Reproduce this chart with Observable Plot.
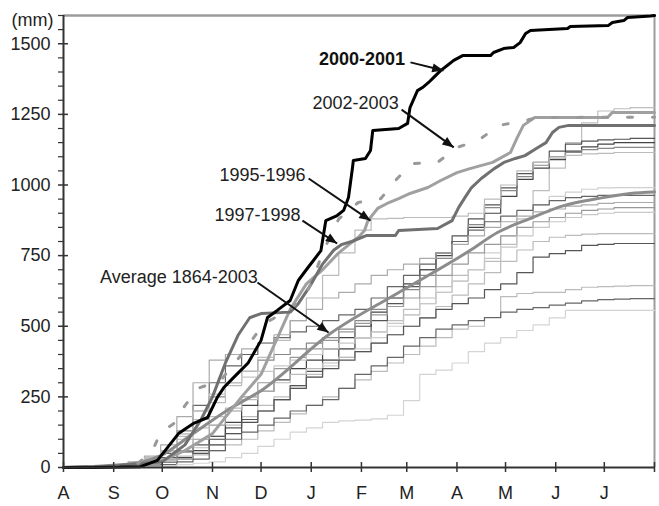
<!DOCTYPE html>
<html><head><meta charset="utf-8">
<script src="https://cdn.jsdelivr.net/npm/d3@7"></script>
<script src="https://cdn.jsdelivr.net/npm/@observablehq/plot@0.6"></script>
<style>body{margin:0;background:#fff}</style>
</head><body><div id="chart"></div>
<script>
// ---- axis data ----
const monthStarts = [0,31,61,92,122,153,184,212,243,273,304,334,365];
const monthLabels = ["A","S","O","N","D","J","F","M","A","M","J","J",""];
const yMajor = [0,250,500,750,1000,1250,1500];
const yMinor = d3.range(0,1601,50).filter(v => v % 250 !== 0);
const yUnit = "(mm)";

// ---- background seasons: cumulative mm on a 10-day grid (day of season from 1 Aug) ----
const days = [0,10,20,30,40,50,60,70,80,90,100,110,120,130,140,150,160,170,180,190,200,210,220,230,240,250,260,270,280,290,300,310,320,330,340,350,360,365];
const s1 = [0,0,2,5,10,15,25,40,70,110,150,180,220,250,290,330,380,420,460,480,520,560,600,640,680,700,730,790,880,980,1060,1150,1220,1262,1270,1274,1274,1274];
const s2 = [0,0,3,6,12,20,35,55,80,110,140,170,200,240,290,340,380,420,460,520,580,640,700,760,820,880,930,990,1040,1080,1120,1145,1155,1160,1162,1165,1165,1165];
const s3 = [0,0,0,2,5,10,20,35,60,100,160,220,270,310,350,380,420,460,500,550,600,650,700,750,800,850,900,960,1020,1060,1090,1120,1135,1145,1150,1150,1150,1150];
const s4 = [0,2,5,8,15,30,60,130,200,250,300,340,380,400,420,440,460,490,520,560,600,630,680,740,800,860,920,980,1030,1070,1100,1115,1125,1130,1133,1133,1133,1133];
const s5 = [0,0,3,8,15,30,60,110,170,230,290,340,390,450,520,600,680,760,840,880,882,885,885,885,890,900,950,1000,1050,1080,1095,1105,1110,1112,1115,1115,1115,1115];
const s6 = [0,0,0,3,6,10,20,30,50,80,120,160,200,240,280,320,360,390,420,460,500,540,580,620,660,700,760,820,880,930,960,975,985,990,991,991,991,991];
const s7 = [0,2,4,8,14,25,50,120,220,300,360,400,440,460,480,500,520,540,560,600,640,680,720,760,800,840,870,890,910,930,945,955,960,963,963,963,963,963];
const s8 = [0,3,6,10,20,40,80,180,300,380,400,420,440,470,520,560,600,620,650,680,700,720,740,760,790,820,850,870,890,905,915,925,930,935,938,938,938,938];
const s9 = [0,0,4,8,12,20,30,60,100,150,200,250,300,350,390,420,450,480,510,540,570,600,640,680,720,760,790,820,850,870,885,900,910,915,920,920,920,920];
const s10 = [0,0,2,5,10,25,60,120,200,260,300,320,340,360,380,400,420,440,460,480,510,540,580,620,660,700,740,780,820,850,870,885,895,900,903,903,903,903];
const s11 = [0,2,5,10,20,35,60,100,140,180,210,240,270,300,330,350,370,390,410,440,470,500,530,570,610,650,690,730,770,800,815,822,826,828,828,828,828,828];
const s12 = [0,0,2,4,8,12,18,30,50,80,120,160,200,240,280,320,350,380,410,440,470,500,530,560,580,600,630,650,690,745,757,768,786,790,793,793,793,793];
const s13 = [0,0,2,4,8,12,20,30,45,60,80,100,130,160,190,220,250,280,310,340,370,400,430,460,490,500,530,605,616,620,620,630,638,640,642,644,644,644];
const s14 = [0,0,2,4,6,8,10,20,30,60,100,125,150,175,200,220,240,280,330,360,390,430,460,490,505,520,531,550,560,566,575,582,590,594,596,598,598,598];
const s15 = [0,0,0,2,3,4,5,10,15,20,35,50,75,100,125,140,160,165,168,172,185,237,330,345,370,410,440,460,485,505,530,556,556,556,556,556,556,556];
const background = [s1,s2,s3,s4,s5,s6,s7,s8,s9,s10,s11,s12,s13,s14,s15];

// ---- highlighted seasons: [day, mm] ----
const y2000 = [[0,0],[18.5,0],[47.6,3],[58,25],[71,120],[80,155],[89,177],[95,248],[99,283],[105,318],[114,370],[122,450],[126,531],[132,556],[140,591],[145,662],[151,708],[154,730],[159,768],[162,874],[169,892],[173,910],[176,956],[178.5,1062],[179,1087],[186.5,1094],[189.6,1122],[191,1193],[207,1200],[212.5,1218],[214,1274],[218.6,1334],[221.7,1345],[225.5,1363],[228.5,1380],[232.9,1405],[237,1423],[241,1441],[246.5,1458],[263.7,1458],[265.6,1469],[271.8,1483],[278,1487],[282,1504],[285.4,1536],[288.4,1547],[311.3,1554],[313,1561],[336.6,1565],[339,1575],[346,1582],[348.4,1593],[362.6,1598],[365,1600]];
const y2002 = [[0,0],[30,3],[45,10],[55,60],[60,124],[68,155],[75,219],[83,280],[97,308],[110,400],[120,480],[125,513],[140,560],[150,616],[155,680],[160,761],[170,880],[182,938],[196,952],[205,1016],[215,1076],[231,1080],[243,1133],[256,1157],[269,1211],[285,1228],[293,1239],[365,1240]];
const y1995 = [[0,0],[40,5],[61,25],[75,60],[92,120],[110,250],[122,330],[140,560],[150,650],[160,700],[170,760],[183,820],[186,840],[188,874],[194,917],[201,938],[207,952],[214,970],[225,991],[233,1016],[243,1044],[251,1058],[265,1080],[276,1115],[280,1165],[284,1211],[291,1239],[336,1239],[339,1257],[365,1257]];
const y1997 = [[0,0],[31,5],[61,20],[75,80],[85,170],[92,250],[100,370],[108,470],[115,530],[122,545],[140,550],[145,580],[152,640],[160,720],[167,770],[172,790],[178,800],[187,821],[205,821],[207,839],[231,846],[240,874],[244,920],[248,956],[252,991],[258,1023],[266,1058],[272,1080],[279,1094],[285,1104],[292,1129],[298,1150],[302,1186],[306,1204],[312,1211],[365,1211]];
const average = [[0,0],[31,8],[49,20],[60,42],[80,120],[101,202],[122,272],[165,475],[206,616],[251,768],[268,832],[288,881],[309,927],[330,952],[350,970],[365,975]];

// ---- annotations (data units) ----
const labels = [
  {text:"2002-2003", day:207, mm:1288},
  {text:"1995-1996", day:149.5, mm:1034},
  {text:"1997-1998", day:146.4, mm:892},
  {text:"Average 1864-2003", day:120, mm:672}
];
const boldLabels = [{text:"2000-2001", day:211, mm:1444}];
const arrows = [
  {x1:214.3, y1:1434, x2:234.7, y2:1405},
  {x1:208.8, y1:1267, x2:241, y2:1133},
  {x1:151.4, y1:1023, x2:189.6, y2:874},
  {x1:147.6, y1:874, x2:169, y2:793},
  {x1:119.8, y1:655, x2:163.7, y2:478}
];

// ---- styles ----
const bgColors = ["#bdbdbd","#555","#444","#888","#bbb","#cfcfcf","#666","#aaa","#999","#c8c8c8","#bbb","#555","#bbb","#666","#d4d4d4"];

const font = "'Liberation Sans', Arial, sans-serif";
const marks = [
  Plot.ruleY([1600], {stroke:"#9c9c9c", strokeWidth:2.5}),
  Plot.ruleX([365], {stroke:"#9c9c9c", strokeWidth:2}),
  ...background.map((vals, i) => Plot.line(days, {x: d => d, y: (d, j) => vals[j], stroke: bgColors[i], strokeWidth: 1.2, curve: "step-after"})),
  Plot.line(average, {x: d => d[0], y: d => d[1], stroke:"#8c8c8c", strokeWidth:3, curve:"monotone-x"}),
  Plot.line(y1995, {x: d => d[0], y: d => d[1], stroke:"#a0a0a0", strokeWidth:3}),
  Plot.line(y1997, {x: d => d[0], y: d => d[1], stroke:"#707070", strokeWidth:3}),
  Plot.line(y2002, {x: d => d[0], y: d => d[1], stroke:"#999", strokeWidth:3, strokeDasharray:"5,20"}),
  Plot.line(y2000, {x: d => d[0], y: d => d[1], stroke:"#000", strokeWidth:3}),
  Plot.ruleX([0], {stroke:"#333", strokeWidth:2}),
  Plot.ruleY([0], {stroke:"#333", strokeWidth:2}),
  Plot.axisY(yMajor, {tickSize:10, dx:5, tickFormat: () => "", label:null, stroke:"#333", strokeWidth:1.5}),
  Plot.axisY(yMinor, {tickSize:5, tickFormat: () => "", label:null, stroke:"#333", strokeWidth:1.2}),
  Plot.axisY(yMajor, {tickSize:0, tickPadding:13, tickFormat: d3.format("d"), label:null, fill:"#222", fontSize:18}),
  Plot.axisX(monthStarts, {tickSize:10, dy:-5, tickFormat: () => "", label:null, stroke:"#333", strokeWidth:1.5}),
  Plot.axisX(monthStarts, {tickSize:0, tickPadding:19, tickFormat: d => monthLabels[monthStarts.indexOf(d)], label:null, fill:"#222", fontSize:18}),
  Plot.text([yUnit], {frameAnchor:"top-left", dx:-10, dy:5, textAnchor:"end", lineAnchor:"middle", fontSize:18, fill:"#222"}),
  Plot.link(arrows, {x1:"x1", y1:"y1", x2:"x2", y2:"y2", stroke:"#111", strokeWidth:2, markerEnd:"arrow"}),
  Plot.text(labels, {x:"day", y:"mm", text:"text", textAnchor:"end", lineAnchor:"middle", fontSize:18, fill:"#222"}),
  Plot.text(boldLabels, {x:"day", y:"mm", text:"text", textAnchor:"end", lineAnchor:"middle", fontSize:18, fontWeight:"bold", fill:"#111"})
];

const chart = Plot.plot({
  width:659, height:506,
  marginLeft:63, marginRight:5, marginTop:15, marginBottom:39,
  style:{fontFamily:font, fontSize:"18px", background:"#fff", color:"#222"},
  x:{domain:[0,365], axis:null},
  y:{domain:[0,1600], axis:null},
  marks
});
chart.querySelectorAll("marker").forEach(m => {
  m.setAttribute("viewBox", "-9 -5 10 10");
  m.setAttribute("fill", "#111");
  m.setAttribute("stroke", "none");
  const p = m.querySelector("path");
  if (p) p.setAttribute("d", "M-8.5,-3.4L0,0L-8.5,3.4Z");
});
document.getElementById("chart").appendChild(chart);
</script></body></html>
